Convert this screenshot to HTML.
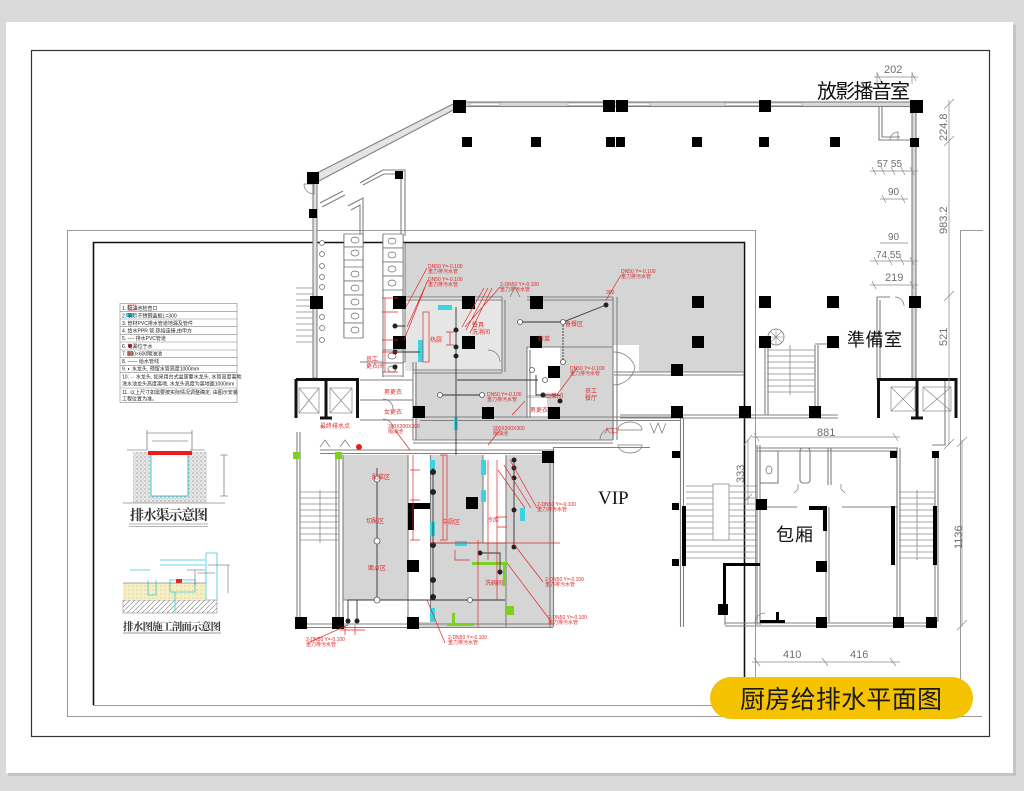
<!DOCTYPE html>
<html><head><meta charset="utf-8">
<style>
html,body{margin:0;padding:0;background:#dadada;}
svg{display:block;}
text{font-family:"Liberation Sans","Noto Sans CJK SC",sans-serif;}
.d{fill:#6f6f6f;font-size:11px;}
.r{fill:#e0282a;font-size:5px;}
.k{fill:#222;font-size:5px;}
</style></head><body>
<svg width="1024" height="791" viewBox="0 0 1024 791" xmlns="http://www.w3.org/2000/svg">
<rect width="1024" height="791" fill="#dadada"/>
<rect x="8" y="25" width="1008" height="751" fill="#c4c4c4"/>
<rect x="6" y="22" width="1007" height="751" fill="#fff"/>
<rect x="31.5" y="50.5" width="958" height="686" fill="none" stroke="#333" stroke-width="1.2"/>

<!-- outer gray boundary -->
<g fill="none" stroke="#9a9a9a" stroke-width="1">
<path d="M67.5,716.5V230.5H755.5V716"/>
<path d="M67,716.5H982"/>
<path d="M93,705.5H744"/>
<path d="M960.5,716V230.5H983"/>
</g>

<!-- gray fills -->
<path d="M405,243H743V372H614V440H415V362H405Z" fill="#d5d5d5"/>
<rect x="405" y="297" width="97" height="74" fill="#e6e6e6"/>
<rect x="527" y="347" width="33" height="48" fill="#fff"/>
<rect x="527" y="398" width="20" height="20" fill="#fff"/>
<rect x="613" y="345" width="26" height="42" fill="#fff"/>
<rect x="343" y="455" width="210" height="172" fill="#d5d5d5"/>
<rect x="408" y="455" width="22" height="167" fill="#fff"/>
<rect x="483" y="455" width="23" height="88" fill="#fff"/>
<rect x="343" y="600" width="65" height="27" fill="#fff"/>

<!-- black drawing border -->
<path d="M93.5,705V242.5H744.5V677" fill="none" stroke="#111" stroke-width="1.6"/>

<!-- main walls -->
<g fill="none" stroke="#808080" stroke-width="1.1">
<rect x="459" y="102" width="457" height="4.5" fill="#d8d8d8"/>
<polygon points="313,175 459,101 459,107 317,182" fill="#e4e4e4"/>
<path d="M320,203L343,191M322,207L345,195"/>
<path d="M360,183L383,170H405V236M363,185L384,174H401V236"/>
<path d="M348,206L363,198V236M351,210L360,205V236"/>
<rect x="912" y="104" width="4" height="276" fill="#d8d8d8"/>
<path d="M879,106V140H912M882,106V137H900"/>
<rect x="313" y="178" width="4" height="200" fill="#e0e0e0"/>
<path d="M297,432V627M300,432V627"/>
<path d="M336,455V627M339,455V627M343,455V627"/>
<path d="M297,627.5H553M297,624H553"/>
<path d="M320,453.5H553M320,450H553"/>
<path d="M420,420.5H680M420,417H680"/>
<path d="M553,447.5H650M553.5,447V627M550,455V627"/>
<path d="M680.5,418V627M683.5,418V627"/>
<path d="M408,455V622M430.5,455V622M483,455V543M506,455V627"/>
<path d="M343,600H408M437,543H506"/>
<!-- upper kitchen -->
<path d="M405,297H502M405,300H502M527,297H613M527,300H613"/>
<path d="M502,297V372M505,300V372"/>
<path d="M413,370H502M413,373H502"/>
<path d="M413,362V440M416,362V440"/>
<path d="M527,347H612M527,347V418M530,350V418"/>
<path d="M413,440H613M413,443H613"/>
<path d="M613,297V440M617,297V440"/>
<path d="M614,372H744M614,375H744"/>
<path d="M620,415H838M620,418H838"/>
<path d="M405,243V362"/>
<!-- left area -->
<path d="M360,362H405M360,380H413M360,400H413M360,420H413"/>
<path d="M383,234V377M403,234V377M344,234V338M363,234V338"/>
<!-- right block -->
<path d="M757,445V625M760,445V625"/>
<path d="M757,448H898M757,451H898"/>
<path d="M797,507H760M842,507H898"/>
<path d="M828,448V485M831,448V485"/>
<path d="M826,507V622M829,507V622"/>
<path d="M897,448V622M900,448V622"/>
<path d="M935,455V622M938,455V622"/>
<path d="M725,623H935M725,626H935"/>
<path d="M725,565V625"/>
<path d="M945,380V445H932"/>
<path d="M877,297V380M880,300V380M877,297H890"/>
<path d="M765,345V415M768,345V415M815,345V415M818,345V415M815,344H830"/>
<rect x="800" y="448" width="10" height="35" rx="3"/>
<rect x="760" y="451" width="18" height="32"/>
</g>
<!-- windows -->
<g fill="#fff" stroke="#999" stroke-width="0.6">
<rect x="470" y="103" width="30" height="2.5"/><rect x="568" y="103" width="40" height="2.5"/>
<rect x="625" y="103" width="25" height="2.5"/><rect x="725" y="103" width="77" height="2.5"/>
</g>

<!-- stairs -->
<g stroke="#8a8a8a" stroke-width="0.8" fill="none">
<path d="M296,288H313M296,294H313M296,300H313M296,306H313M296,312H313M296,318H313M296,324H313M296,330H313M296,336H313M296,342H313"/>
<path d="M300,492H338M300,498H338M300,504H338M300,510H338M300,516H338M300,522H338M300,528H338M300,534H338M300,540H338M320,490V543"/>
<path d="M767,350H815M767,356H815M767,362H815M767,368H815M767,374H815M767,380H815M767,386H815M767,392H815M790,345V395"/>
<path d="M686,486H757M686,492H757M686,498H757M686,504H757M686,510H757M686,516H757M686,522H757M686,528H757M686,534H757M686,540H757M686,546H757M686,552H757M686,558H757"/>
<rect x="713" y="484" width="16" height="56" fill="#fff"/>
<path d="M899,492H935M899,498H935M899,504H935M899,510H935M899,516H935M899,522H935M899,528H935M899,534H935M899,540H935M899,546H935M899,552H935M899,558H935M917,490V560"/>
</g>
<circle cx="776" cy="337" r="8" fill="none" stroke="#777" stroke-width="0.8"/>
<path d="M768,337H784M776,329V345M770,331L782,343M782,331L770,343" stroke="#888" stroke-width="0.6"/>

<!-- toilets / urinals -->
<g fill="#fff" stroke="#666" stroke-width="0.7">
<rect x="344" y="234" width="19" height="13"/><rect x="344" y="247" width="19" height="13"/>
<rect x="344" y="267" width="19" height="14"/><rect x="344" y="281" width="19" height="14"/><rect x="344" y="295" width="19" height="14"/><rect x="344" y="309" width="19" height="14"/><rect x="344" y="323" width="19" height="15"/>
<rect x="383" y="234" width="20" height="14"/><rect x="383" y="248" width="20" height="14"/><rect x="383" y="262" width="20" height="14"/><rect x="383" y="276" width="20" height="14"/>
<rect x="383" y="350" width="20" height="13"/><rect x="383" y="363" width="20" height="13"/>
<ellipse cx="355" cy="240" rx="4" ry="3"/><ellipse cx="355" cy="253" rx="4" ry="3"/><ellipse cx="355" cy="274" rx="4" ry="3"/><ellipse cx="355" cy="288" rx="4" ry="3"/><ellipse cx="355" cy="302" rx="4" ry="3"/><ellipse cx="355" cy="316" rx="4" ry="3"/><ellipse cx="355" cy="330" rx="4" ry="3"/>
<ellipse cx="392" cy="241" rx="4" ry="3"/><ellipse cx="392" cy="255" rx="4" ry="3"/><ellipse cx="392" cy="269" rx="4" ry="3"/><ellipse cx="392" cy="283" rx="4" ry="3"/><ellipse cx="392" cy="356" rx="4" ry="3"/><ellipse cx="392" cy="369" rx="4" ry="3"/>
<circle cx="322" cy="243" r="2.5"/><circle cx="322" cy="254" r="2.5"/><circle cx="322" cy="266" r="2.5"/><circle cx="322" cy="277" r="2.5"/><circle cx="322" cy="287" r="2.5"/><circle cx="322" cy="317" r="2.5"/><circle cx="322" cy="328" r="2.5"/><circle cx="322" cy="340" r="2.5"/>
<ellipse cx="769" cy="470" rx="3" ry="4"/>
</g>

<!-- door arcs -->
<g fill="none" stroke="#777" stroke-width="0.7">
<path d="M304,184A10,10 0 0 0 314,194V184Z"/>
<path d="M890,140A8,8 0 0 1 898,132V140"/>
<path d="M895,297A9,9 0 0 1 904,306"/>
<path d="M613,352A22,22 0 0 1 635,367A22,22 0 0 1 613,385"/>
<path d="M488,350A12,12 0 0 1 500,362"/>
<path d="M600,440A12,12 0 0 1 612,428"/>
<path d="M618,430A12,8 0 0 1 642,430H618ZM618,445A12,8 0 0 0 642,445H618Z"/>
<path d="M650,423L654,433L658,423L662,433L666,423"/>
<path d="M320,447L325,440L330,447M340,447L345,440L350,447"/>
<path d="M383,399A10,10 0 0 1 393,409M383,419A10,10 0 0 1 393,429"/>
<path d="M755,623A10,10 0 0 1 765,613"/>
<path d="M794,493L798,489V484M845,493L841,489V484"/>
<path d="M510,297L515,287L520,297"/>
</g>

<!-- elevators -->
<g stroke="#111" fill="none">
<path d="M296,379.5H357.5V418M296,379V418" stroke-width="3"/>
<path d="M326,380V418M320,418H332" stroke-width="3"/>
<path d="M877,379.5H956V418M878.5,379V418M917,380V418M911,418H923" stroke-width="3"/>
</g>
<g fill="none" stroke="#888" stroke-width="0.7">
<rect x="299" y="388" width="20" height="25"/><path d="M299,388L319,413M319,388L299,413"/>
<rect x="330" y="388" width="22" height="25"/><path d="M330,388L352,413M352,388L330,413"/>
<rect x="891" y="387" width="24" height="24"/><path d="M891,387L915,411M915,387L891,411"/>
<rect x="923" y="387" width="28" height="24"/><path d="M923,387L951,411M951,387L923,411"/>
</g>

<!-- black columns -->
<g fill="#000">
<rect x="453" y="100" width="13" height="13"/><rect x="603" y="100" width="12" height="12"/><rect x="616" y="100" width="12" height="12"/>
<rect x="759" y="100" width="12" height="12"/><rect x="910" y="100" width="13" height="13"/>
<rect x="462" y="137" width="10" height="10"/><rect x="531" y="137" width="10" height="10"/><rect x="606" y="137" width="9" height="10"/><rect x="616" y="137" width="9" height="10"/>
<rect x="692" y="137" width="10" height="10"/><rect x="759" y="137" width="10" height="10"/><rect x="830" y="137" width="10" height="10"/><rect x="910" y="138" width="9" height="9"/>
<rect x="307" y="172" width="12" height="12"/><rect x="309" y="209" width="8" height="9"/><rect x="395" y="171" width="8" height="8"/>
<rect x="310" y="296" width="13" height="13"/>
<rect x="393" y="296" width="13" height="13"/><rect x="462" y="296" width="13" height="13"/><rect x="530" y="296" width="13" height="13"/>
<rect x="692" y="296" width="12" height="12"/><rect x="759" y="296" width="12" height="12"/><rect x="827" y="296" width="12" height="12"/><rect x="909" y="296" width="12" height="12"/>
<rect x="393" y="336" width="13" height="13"/><rect x="462" y="336" width="13" height="13"/><rect x="530" y="336" width="12" height="12"/>
<rect x="692" y="336" width="12" height="12"/><rect x="759" y="336" width="12" height="12"/><rect x="827" y="336" width="12" height="12"/>
<rect x="548" y="366" width="12" height="12"/><rect x="671" y="364" width="12" height="12"/>
<rect x="413" y="406" width="12" height="12"/><rect x="482" y="407" width="12" height="12"/><rect x="548" y="407" width="12" height="12"/>
<rect x="671" y="406" width="12" height="12"/><rect x="739" y="406" width="12" height="12"/><rect x="809" y="406" width="12" height="12"/>
<rect x="542" y="451" width="12" height="12"/><rect x="672" y="451" width="7" height="7"/>
<rect x="466" y="497" width="12" height="12"/><rect x="407" y="560" width="12" height="12"/>
<rect x="295" y="617" width="12" height="12"/><rect x="332" y="617" width="12" height="12"/><rect x="407" y="617" width="12" height="12"/>
<rect x="673" y="451" width="7" height="7"/><rect x="672" y="503" width="7" height="7"/><rect x="672" y="559" width="7" height="7"/>
<rect x="756" y="499" width="11" height="11"/><rect x="718" y="604" width="10" height="11"/><rect x="816" y="561" width="11" height="11"/>
<rect x="816" y="617" width="11" height="11"/><rect x="893" y="617" width="11" height="11"/><rect x="926" y="617" width="11" height="11"/>
<rect x="890" y="451" width="7" height="7"/><rect x="932" y="451" width="7" height="7"/>
<!-- thick wall pieces -->
<path d="M408,503H430V509H414V530H408Z"/>
<rect x="682" y="506" width="4" height="60"/>
<path d="M723,563H760V566H726V612H723Z"/>
<rect x="891" y="506" width="4" height="59"/><rect x="933" y="506" width="4" height="59"/>
<path d="M809,506H827V531H823V510H809Z"/>
<path d="M760,620H785V623H760ZM776,612H779V622H776Z"/>
</g>

<!-- green -->
<g fill="#7cd020">
<rect x="293" y="452" width="7" height="7"/><rect x="335" y="452" width="7" height="7"/>
<rect x="447" y="623" width="27" height="3"/><rect x="452" y="613" width="3" height="12"/>
<rect x="472" y="562" width="35" height="3"/><rect x="503" y="562" width="3" height="24"/>
<rect x="505" y="606" width="9" height="9"/>
</g>
<circle cx="359" cy="447" r="3" fill="#e8201c"/>

<!-- cyan -->
<g fill="#38d4e0">
<rect x="438" y="305" width="14" height="5"/><rect x="418" y="340" width="5" height="22"/><rect x="454" y="417" width="4" height="13"/>
<rect x="430" y="460" width="5" height="12"/><rect x="430" y="522" width="5" height="14"/><rect x="481" y="460" width="5" height="15"/><rect x="481" y="490" width="5" height="12"/>
<rect x="520" y="508" width="5" height="13"/><rect x="455" y="541" width="12" height="5"/><rect x="430" y="608" width="5" height="14"/>
</g>

<!-- dark pipes -->
<g fill="none" stroke="#333" stroke-width="0.9">
<path d="M395,326H405M395,352H420M456,307V440M457,380H538M440,395H482M520,322H563L606,305M536,375V395H560"/>
<path d="M563,322V362" stroke-dasharray="2,1"/>
<path d="M377,468V600M348,600H505M433,468V600M514,460V548M480,553H500V575" />
<path d="M348,600V621M357,600V621M456,440V455"/>
</g>
<g fill="#222">
<circle cx="395" cy="326" r="2.5"/><circle cx="395" cy="352" r="2.5"/><circle cx="395" cy="367" r="2.5"/>
<circle cx="456" cy="330" r="2.5"/><circle cx="456" cy="347" r="2.5"/><circle cx="456" cy="356" r="2.5"/>
<circle cx="606" cy="305" r="2.5"/><circle cx="543" cy="395" r="2.5"/><circle cx="560" cy="401" r="2.5"/>
<circle cx="433" cy="472" r="3"/><circle cx="433" cy="492" r="3"/><circle cx="433" cy="545" r="3"/><circle cx="433" cy="580" r="3"/><circle cx="433" cy="597" r="3"/>
<circle cx="514" cy="460" r="2.5"/><circle cx="514" cy="468" r="2.5"/><circle cx="514" cy="478" r="2.5"/><circle cx="514" cy="510" r="2.5"/><circle cx="514" cy="547" r="2.5"/>
<circle cx="480" cy="553" r="2.5"/><circle cx="500" cy="572" r="2.5"/><circle cx="348" cy="621" r="2.5"/><circle cx="357" cy="621" r="2.5"/>
</g>
<g fill="#fff" stroke="#555" stroke-width="0.8">
<circle cx="520" cy="322" r="2.5"/><circle cx="563" cy="322" r="2.5"/><circle cx="563" cy="362" r="2.5"/><circle cx="545" cy="380" r="2.5"/>
<circle cx="440" cy="395" r="2.5"/><circle cx="482" cy="395" r="2.5"/><circle cx="532" cy="370" r="2.5"/>
<circle cx="377" cy="479" r="3"/><circle cx="377" cy="541" r="3"/><circle cx="377" cy="600" r="3"/><circle cx="470" cy="600" r="2.5"/>
</g>

<!-- red pipes and leaders -->
<g fill="none" stroke="#e0282a" stroke-width="0.7">
<path d="M385,298V372M382,298H398M382,312H398M382,340H398M382,352H398M382,372H398"/>
<path d="M427,268L406,307M428,280L407,327M427,282L404,340"/>
<path d="M500,287L465,327M484,288L462,327M488,288L466,330M492,288L470,333"/>
<rect x="423" y="312" width="6" height="50"/>
<path d="M621,275L606,300M577,368L556,396M525,401L512,415M395,430L410,450M500,430L488,445"/>
<path d="M450,332V345M446,332H454M446,345H454"/>
<path d="M413,455V540M410,470H420M410,500H420M410,540H420"/>
<path d="M443,455V540M440,455H447V540H440"/>
<path d="M488,460V560M497,460V600M478,540V627M430,543H560"/>
<path d="M537,508L510,460M543,582L513,543M550,620L507,563M445,643L427,600M525,508L498,470M531,508L504,465"/>
<path d="M310,642L348,625M340,630H365M345,625V635M355,625V635"/>
<path d="M497,517H507M497,527H507M455,550V560H470"/>
</g>

<!-- red labels -->
<g class="r">
<text x="428" y="268">DN50 Y=-0.100</text><text x="428" y="273">重力排污水管</text>
<text x="428" y="281">DN50 Y=-0.100</text><text x="428" y="286">重力排污水管</text>
<text x="500" y="286">2-DN50 Y=-0.100</text><text x="500" y="291">重力排污水管</text>
<text x="621" y="273">DN50 Y=-0.100</text><text x="621" y="278">重力排污水管</text>
<text x="606" y="294">300</text>
<text x="565" y="326" font-size="6">备餐区</text>
<text x="430" y="342" font-size="6">热厨</text>
<text x="472" y="327" font-size="6">餐具</text><text x="472" y="334" font-size="6">洗消间</text>
<text x="538" y="341" font-size="6">待菜</text>
<text x="366" y="361" font-size="6">员工</text><text x="366" y="368" font-size="6">更衣间</text>
<text x="384" y="394" font-size="6">男更衣</text><text x="384" y="414" font-size="6">女更衣</text>
<text x="585" y="393" font-size="6">员工</text><text x="585" y="400" font-size="6">餐厅</text>
<text x="545" y="398" font-size="6">出菜间</text><text x="530" y="412" font-size="6">男更衣</text>
<text x="570" y="370">DN50 Y=-0.100</text><text x="570" y="375">重力排污水管</text>
<text x="487" y="396">DN50 Y=-0.100</text><text x="487" y="401">重力排污水管</text>
<text x="320" y="428" font-size="6">最终排水点</text>
<text x="388" y="428">300X300X300</text><text x="388" y="433">隔油池</text>
<text x="493" y="430">300X300X300</text><text x="493" y="435">隔油池</text>
<text x="372" y="479" font-size="6">配菜区</text>
<text x="366" y="523" font-size="6">切配区</text>
<text x="368" y="570" font-size="6">面点区</text>
<text x="442" y="524" font-size="6">中厨区</text>
<text x="487" y="522" font-size="6">冷库</text>
<text x="485" y="585" font-size="6">洗碗间</text>
<text x="537" y="506">2-DN50 Y=-0.100</text><text x="537" y="511">重力排污水管</text>
<text x="545" y="581">2-DN50 Y=-0.100</text><text x="545" y="586">重力排污水管</text>
<text x="548" y="619">2-DN50 Y=-0.100</text><text x="548" y="624">重力排污水管</text>
<text x="448" y="639">2-DN50 Y=-0.100</text><text x="448" y="644">重力排污水管</text>
<text x="306" y="641">2-DN50 Y=-0.100</text><text x="306" y="646">重力排污水管</text>
<text x="604" y="433" font-size="7">入口</text>
</g>

<!-- room labels -->
<text x="817" y="98" font-size="20" textLength="93" fill="#111">放影播音室</text>
<text x="847" y="346" font-size="18" textLength="55" fill="#111">準備室</text>
<text x="776" y="541" font-size="18" textLength="37" fill="#111">包厢</text>
<text x="598" y="504" font-size="19" fill="#111" style="font-family:'Liberation Serif',serif">VIP</text>

<!-- dimensions -->
<g fill="none" stroke="#888" stroke-width="0.7">
<path d="M874,77H918M877,73L881,81M912,73L916,81M877,72V84M912,72V84"/>
<path d="M949,100V445M944,109L954,99M944,146L954,136M944,301L954,291M944,449L954,439"/>
<path d="M870,171H918M872,167L876,175M881,167L885,175M891,167L895,175M901,167L905,175M910,167L914,175"/>
<path d="M880,199H908M882,195L886,203M901,195L905,203"/>
<path d="M880,243H908M870,261H918M874,257L878,265M888,257L892,265M900,257L904,265M910,257L914,265"/>
<path d="M870,285H918M872,281L876,289M910,281L914,289"/>
<path d="M752,437H900M754,433L759,441M893,433L898,441"/>
<path d="M748,440V505M744,445L752,435M744,502L752,494"/>
<path d="M962,440V627M957,447L967,437M957,630L967,620"/>
<path d="M752,662H900M754,658L760,666M822,658L828,666M890,658L896,666"/>
</g>
<g class="d">
<text x="884" y="73" font-size="11">202</text>
<text x="877" y="167" font-size="10">57 55</text>
<text x="888" y="195" font-size="10">90</text>
<text x="888" y="240" font-size="10">90</text>
<text x="876" y="258" font-size="10">74 55</text>
<text x="885" y="281" font-size="11">219</text>
<text x="817" y="436" font-size="11">881</text>
<text x="783" y="658" font-size="11">410</text>
<text x="850" y="658" font-size="11">416</text>
<text transform="translate(947,141) rotate(-90)" font-size="11">224.8</text>
<text transform="translate(947,234) rotate(-90)" font-size="11">983.2</text>
<text transform="translate(947,346) rotate(-90)" font-size="11">521</text>
<text transform="translate(744,483) rotate(-90)" font-size="11">333</text>
<text transform="translate(962,549) rotate(-90)" font-size="11">1136</text>
</g>

<!-- legend -->
<g fill="none" stroke="#888" stroke-width="0.6">
<rect x="120" y="303.5" width="117" height="99"/>
<path d="M120,311.7H237M120,319H237M120,326.7H237M120,334.3H237M120,342H237M120,350H237M120,357.7H237M120,365.3H237M120,372.7H237M120,388H237"/>
</g>
<rect x="128" y="305" width="8" height="5" fill="none" stroke="#e0282a" stroke-width="0.6"/>
<rect x="126" y="313" width="8" height="4" fill="#38d4e0"/>
<circle cx="130" cy="346" r="2" fill="#e0282a"/>
<rect x="127" y="351" width="6" height="5" fill="#e88"/>
<g class="k" font-size="4.8">
<text x="122" y="310">1.       隔油池检查口</text>
<text x="122" y="317.5">2.        表示不锈钢盖板L=300</text>
<text x="122" y="325">3.  管材PVC排水管道地漏及管件</text>
<text x="122" y="332.5">4.  给水PPR 管,热熔连接,由甲方</text>
<text x="122" y="340">5.  ---- 排水PVC管道</text>
<text x="122" y="348">6.      地漏位于水</text>
<text x="122" y="355.5">7.      600×600隔油池</text>
<text x="122" y="363">8.  —— 给水管线</text>
<text x="122" y="370.5">9.  ◐  水龙头, 预留水管高度1000mm</text>
<text x="122" y="378.5">10. ∙∙∙ 水龙头, 如采用台式盆需要水龙头, 水管高度离地</text>
<text x="122" y="385.5">洗水池龙头高度离地, 水龙头高度为离地面1000mm</text>
<text x="122" y="394">11. 以上尺寸如需要按实际情况调整确定, 由图示安装</text>
<text x="122" y="400.5">工程位置为准。</text>
</g>

<!-- drainage channel diagram -->
<defs>
<pattern id="hx" width="4" height="4" patternUnits="userSpaceOnUse"><rect width="4" height="4" fill="#e8e8e8"/><circle cx="1" cy="1" r="0.6" fill="#777"/><circle cx="3" cy="3" r="0.5" fill="#999"/></pattern>
<pattern id="dg" width="5" height="5" patternUnits="userSpaceOnUse"><rect width="5" height="5" fill="#fff"/><path d="M0,5L5,0" stroke="#777" stroke-width="0.6"/></pattern>
<pattern id="sd" width="4" height="4" patternUnits="userSpaceOnUse"><rect width="4" height="4" fill="#f6efc4"/><circle cx="1" cy="2" r="0.5" fill="#c8b060"/></pattern>
</defs>
<rect x="133" y="452" width="74" height="51" fill="url(#hx)"/>
<rect x="151" y="452" width="37" height="44" fill="#fff" stroke="#38c8d8" stroke-width="1"/>
<rect x="148" y="451" width="44" height="4" fill="#ee1c1c"/>
<g fill="none" stroke="#555" stroke-width="0.6">
<path d="M123,503H225M147,433H192M147,430V450M192,430V450M152,441H188M224,455V496M220,455H228M220,496H228M127,450H147M190,450H205"/>
</g>
<text x="130" y="520" font-size="14" font-weight="bold" fill="#333" textLength="78" style="font-family:'Liberation Serif','Noto Serif CJK SC',serif">排水渠示意图</text>
<path d="M129,524H208M129,526.5H208" stroke="#999" stroke-width="0.8"/>

<rect x="123" y="600" width="94" height="13" fill="url(#dg)" stroke="#777" stroke-width="0.5"/>
<rect x="123" y="583" width="82" height="17" fill="url(#sd)"/>
<g fill="none" stroke="#38c8d8" stroke-width="0.8">
<path d="M206,553V600M217,553V600M206,553H217M148,580V595H156V580M170,580H195V592H170ZM175,592V612"/>
<path d="M160,560H205M160,565H205M130,570H150"/>
</g>
<g fill="none" stroke="#555" stroke-width="0.5">
<path d="M123,583H206M187,570H205M195,570V585M197,573H215M208,565H230M228,565V593"/>
</g>
<rect x="176" y="579" width="6" height="4" fill="#e0282a"/>
<text x="123" y="630" font-size="10.5" font-weight="bold" fill="#333" textLength="98" style="font-family:'Liberation Serif','Noto Serif CJK SC',serif">排水图施工剖面示意图</text>
<path d="M123,633H221" stroke="#777" stroke-width="0.8"/>

<!-- title pill -->
<rect x="710" y="677" width="263" height="42" rx="21" fill="#f5c200"/>
<text x="841" y="708" font-size="25" text-anchor="middle" fill="#1a1a1a" textLength="202">厨房给排水平面图</text>
</svg>
</body></html>
